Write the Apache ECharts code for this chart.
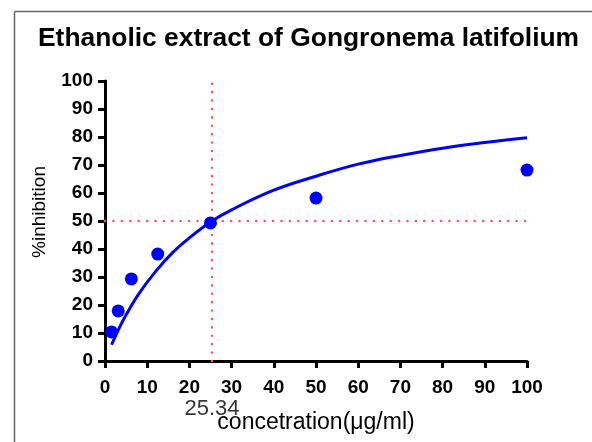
<!DOCTYPE html>
<html><head><meta charset="utf-8">
<script src="https://cdn.jsdelivr.net/npm/echarts@6/dist/echarts.min.js"></script>
<style>html,body{margin:0;padding:0;background:#fff}#c{width:592px;height:442px}</style>
</head><body><div id="c"></div>
<script>
const titleText = 'Ethanolic extract of Gongronema latifolium';
const xName = 'concetration(\u03bcg/ml)';
const yName = '%inhibition';
const concentrations = [1.5625, 3.125, 6.25, 12.5, 25, 50, 100];
const inhibition = [10.4, 17.9, 29.3, 38.2, 49.3, 58.2, 68.2];
const curveX = [1.56, 3, 5, 8, 12, 16, 20, 25.34, 30, 40, 50, 60, 70, 80, 90, 100];
const curveY = [5.8, 10.6, 16.5, 24, 32, 38.7, 44, 50, 54, 61, 66, 70.3, 73.4, 76, 78, 79.7];
const ic50 = 25.34;
const halfLevel = 50;
const xTicks = {min: 0, max: 100, interval: 10};
const yTicks = {min: 0, max: 100, interval: 10};

const chart = echarts.init(document.getElementById('c'), null, {renderer: 'canvas'});
const dotted = {color: '#ff5a5a', width: 2.5, type: [0.1, 8.3], cap: 'round'};
chart.setOption({
  animation: false,
  backgroundColor: '#fff',
  title: {
    text: titleText, left: 33, top: 21,
    textStyle: {fontFamily: 'Liberation Sans', fontWeight: 'bold', fontSize: 26.4, color: '#000'}
  },
  graphic: [
    {type: 'line', shape: {x1: 14.5, y1: 11.5, x2: 14.5, y2: 442}, style: {stroke: '#666', lineWidth: 1.5}},
    {type: 'line', shape: {x1: 14.5, y1: 11.5, x2: 592, y2: 11.5}, style: {stroke: '#666', lineWidth: 1.5}}
  ],
  grid: {left: 105, right: 65, top: 81, bottom: 81},
  xAxis: {
    type: 'value', min: xTicks.min, max: xTicks.max, interval: xTicks.interval,
    name: xName, nameLocation: 'middle', nameGap: 50,
    nameTextStyle: {fontFamily: 'Liberation Sans', fontSize: 23, color: '#000'},
    axisLine: {lineStyle: {color: '#000', width: 3}},
    axisTick: {length: 7, lineStyle: {color: '#000', width: 3}},
    axisLabel: {fontFamily: 'Liberation Sans', fontWeight: 'bold', fontSize: 19, color: '#000', margin: 17},
    splitLine: {show: false}
  },
  yAxis: {
    type: 'value', min: yTicks.min, max: yTicks.max, interval: yTicks.interval,
    name: yName, nameLocation: 'middle', nameGap: 56,
    nameTextStyle: {fontFamily: 'Liberation Sans', fontSize: 19, color: '#000', padding: [0, 0, 0, 18]},
    axisLine: {show: true, lineStyle: {color: '#000', width: 3}},
    axisTick: {show: true, length: 7, lineStyle: {color: '#000', width: 3}},
    axisLabel: {fontFamily: 'Liberation Sans', fontWeight: 'bold', fontSize: 19, color: '#000', margin: 12},
    splitLine: {show: false}
  },
  series: [
    {type: 'line', data: [[xTicks.min, halfLevel], [xTicks.max, halfLevel]], symbol: 'none', lineStyle: dotted, z: 1},
    {type: 'line', data: [[ic50, yTicks.min], [ic50, yTicks.max]], symbol: 'none', lineStyle: dotted, z: 1},
    {type: 'line', data: curveX.map((x, i) => [x, curveY[i]]), symbol: 'none', smooth: 0.4,
     lineStyle: {color: '#0000ff', width: 3}, z: 3},
    {type: 'scatter', data: concentrations.map((x, i) => [x, inhibition[i]]), symbol: 'circle', symbolSize: 13,
     itemStyle: {color: '#0000ff', opacity: 1}, z: 4},
    {type: 'scatter', data: [[ic50, yTicks.min]], symbolSize: 0, silent: true,
     label: {show: true, formatter: String(ic50), position: 'bottom', distance: 37,
       fontFamily: 'Liberation Sans', fontSize: 22, color: '#000'}}
  ]
});
</script></body></html>
